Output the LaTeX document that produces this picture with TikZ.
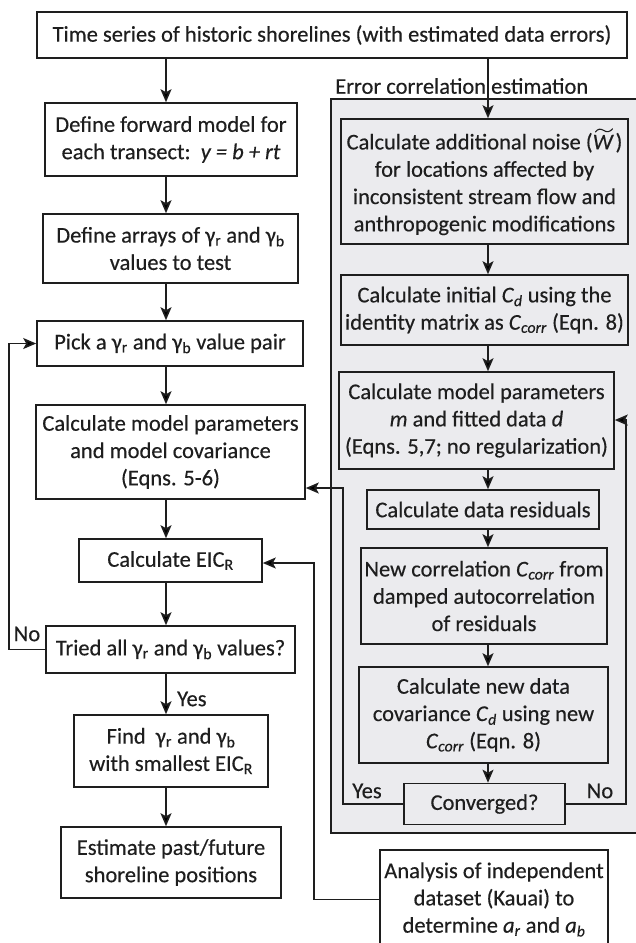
\documentclass[tikz,border=0pt]{standalone}
\usepackage{fontspec}
\setmainfont{Carlito}[UprightFeatures={FakeBold=0.35},ItalicFeatures={FakeBold=0.35}]
\usetikzlibrary{arrows.meta,calc}
\definecolor{panel}{RGB}{235,235,238}
\definecolor{ink}{RGB}{30,30,30}
\newcommand\Wt{\rlap{\hspace{0.1em}\raisebox{0.78em}{\tikz[x=1pt,y=1pt,baseline=0pt]\draw[line width=1.1pt,ink,line cap=round] (0,0) .. controls (2,3) and (5,3.5) .. (8,1.5) .. controls (11,-0.5) and (14,-0.5) .. (17,3);}}\textit{W}\hspace{0.08em}}
\newcommand\sbi[1]{\textsubscript{\textit{#1}}}
\tikzset{
  txt/.style={text=ink, font=\fontsize{22.5}{27.3}\selectfont},
  box/.style={txt, draw=ink, line width=1.6pt, fill=white, align=center, inner sep=0pt},
  gbox/.style={box, fill=panel},
  conn/.style={draw=ink, line width=1.6pt},
  arr/.style={conn, -{Stealth[length=13pt,width=11pt,inset=3pt]}},
  lbl/.style={txt, inner sep=0pt}
}
\begin{document}
\begin{tikzpicture}[x=1pt,y=-1pt]
\useasboundingbox (0,0) rectangle (636,943);
% container
\node[draw=ink, line width=1.6pt, fill=panel, minimum width=314pt, minimum height=734pt, inner sep=0pt] (cont) at (488,466) {};
\node[lbl, anchor=west] (errlbl) at (335,86) {Error correlation estimation};
% left column
\node[box, minimum width=590pt, minimum height=46pt] (top) at (332,35) {Time series of historic shorelines (with estimated data errors)};
\node[box, minimum width=252pt, minimum height=73pt] (def1) at (171,139.5) {Define forward model for\\ each transect:\ \ \textit{y = b + rt}};
\node[box, minimum width=255pt, minimum height=69pt] (def2) at (170.5,248.5) {Define arrays of γ\textsubscript{r} and γ\textsubscript{b}\\ values to test};
\node[box, minimum width=266pt, minimum height=45pt] (pick) at (170,343.5) {Pick a γ\textsubscript{r} and γ\textsubscript{b} value pair};
\node[box, minimum width=269pt, minimum height=94pt] (calcm) at (170.5,452) {Calculate model parameters\\ and model covariance\\ (Eqns. 5-6)};
\node[box, minimum width=183pt, minimum height=43pt] (eic) at (170.5,560.5) {Calculate EIC\textsubscript{R}};
\node[box, minimum width=249pt, minimum height=47pt] (tried) at (170.5,649.5) {Tried all γ\textsubscript{r} and γ\textsubscript{b} values?};
\node[box, minimum width=194pt, minimum height=72pt] (find) at (171,751) {Find\ \ γ\textsubscript{r} and γ\textsubscript{b}\\ with smallest EIC\textsubscript{R}};
\node[box, minimum width=220pt, minimum height=71pt] (est) at (171,862.5) {Estimate past/future\\ shoreline positions};
% right column
\node[gbox, minimum width=287pt, minimum height=125pt] (r1) at (484.5,181.5) {Calculate additional noise (\Wt)\\ for locations affected by\\ inconsistent stream flow and\\ anthropogenic modifications};
\node[gbox, minimum width=287pt, minimum height=70pt] (r2) at (484.5,310) {Calculate initial \textit{C}\sbi{d} using the\\ identity matrix as \textit{C}\sbi{corr} (Eqn. 8)};
\node[gbox, minimum width=275pt, minimum height=97pt] (r3) at (476.5,420.5) {Calculate model parameters\\ \textit{m} and fitted data \textit{d}\\ (Eqns. 5,7; no regularization)};
\node[gbox, minimum width=232pt, minimum height=39pt] (r4) at (483,509.5) {Calculate data residuals};
\node[gbox, minimum width=246pt, minimum height=96pt] (r5) at (484,596) {New correlation \textit{C}\sbi{corr} from\\ damped autocorrelation\\ of residuals};
\node[gbox, minimum width=249pt, minimum height=96pt] (r6) at (483.5,715) {Calculate new data\\ covariance \textit{C}\sbi{d} using new\\ \textit{C}\sbi{corr} (Eqn. 8)};
\node[gbox, minimum width=161pt, minimum height=41pt] (conv) at (484.5,804) {Converged?};
\node[box, minimum width=228pt, minimum height=99pt] (ana) at (494,899.5) {Analysis of independent\\ dataset (Kauai) to\\ determine \textit{a}\sbi{r} and \textit{a}\sbi{b}};
% labels
\node[lbl] (no1) at (27,634) {No};
\node[lbl, anchor=west] (yes1) at (177,699) {Yes};
\node[lbl] (yes2) at (367,791) {Yes};
\node[lbl] (no2) at (600,791) {No};
% helper coordinates
\coordinate (lx) at (166,0);
\coordinate (rx) at (488,0);
\coordinate (loopx) at (9,0);
\coordinate (yesc) at (343,488);
\coordinate (noc) at (626,420);
\coordinate (anac) at (314,563);
% left connectors
\draw[arr] (top.south -| lx) -- (def1.north -| lx);
\draw[arr] (def1.south -| lx) -- (def2.north -| lx);
\draw[arr] (def2.south -| lx) -- (pick.north -| lx);
\draw[arr] (pick.south -| lx) -- (calcm.north -| lx);
\draw[arr] (calcm.south -| lx) -- (eic.north -| lx);
\draw[arr] (eic.south -| lx) -- (tried.north -| lx);
\draw[arr] (tried.south -| lx) -- (find.north -| lx);
\draw[arr] (find.south -| lx) -- (est.north -| lx);
\draw[arr] (tried.west) -- (tried.west -| loopx) -- (pick.west -| loopx) -- (pick.west);
% right connectors
\draw[arr] (top.south -| rx) -- (r1.north -| rx);
\draw[arr] (r1.south -| rx) -- (r2.north -| rx);
\draw[arr] (r2.south -| rx) -- (r3.north -| rx);
\draw[arr] (r3.south -| rx) -- (r4.north -| rx);
\draw[arr] (r4.south -| rx) -- (r5.north -| rx);
\draw[arr] (r5.south -| rx) -- (r6.north -| rx);
\draw[arr] (r6.south -| rx) -- (conv.north -| rx);
\draw[arr] (conv.west) -| (yesc) -- (yesc -| calcm.east);
\draw[arr] (conv.east) -| (noc) -- (noc -| r3.east);
\draw[arr] (ana.west) -| (anac) -- (anac -| eic.east);
\end{tikzpicture}
\end{document}
